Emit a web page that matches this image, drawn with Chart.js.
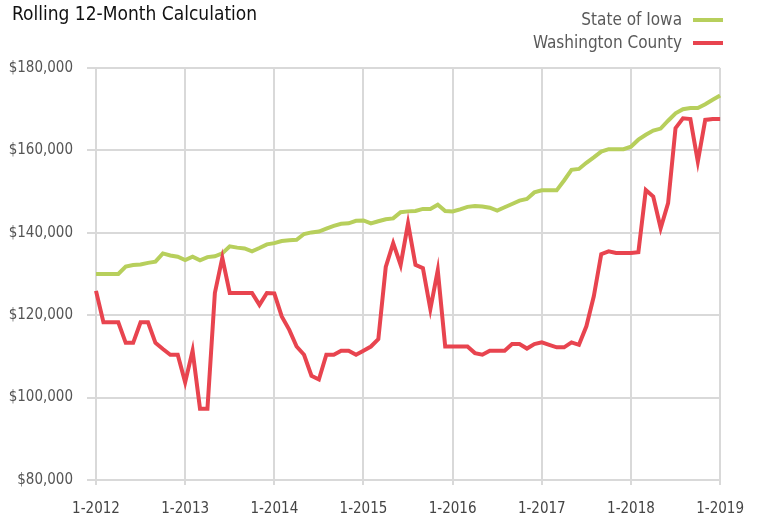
<!DOCTYPE html>
<html>
<head>
<meta charset="utf-8">
<script src="https://cdn.jsdelivr.net/npm/chart.js@4/dist/chart.umd.min.js"></script>
<style>
    body { margin: 0; background: #fff; }
    #wrap { position: relative; width: 759px; height: 515px; font-family: "DejaVu Sans Condensed", sans-serif; }
    #title { position: absolute; left: 12px; top: 2px; font-size: 19px; color: #111; }
    #legend { position: absolute; right: 36px; top: 8px; font-size: 17px; color: #5a5a5a; text-align: right; line-height: 23px; }
    #legend span.sw { display: inline-block; width: 30px; height: 4px; margin-left: 11px; vertical-align: middle; }
</style>
</head>
<body>
<div id="wrap">
    <canvas id="grafica" width="759" height="515"></canvas>
    <div id="title">Rolling 12-Month Calculation</div>
    <div id="legend">
        <div>State of Iowa<span class="sw" style="background:#b7cf5c"></span></div>
        <div>Washington County<span class="sw" style="background:#e8444f"></span></div>
    </div>
</div>
<script>
// monthly, 1-2012 .. 1-2019
const years = [2012, 2013, 2014, 2015, 2016, 2017, 2018, 2019];
const seriesNames = ['State of Iowa', 'Washington County'];

const iowa = [
    130000, 130000, 130000, 130000, 131800, 132200, 132300, 132700, 133000, 135000, 134500, 134200,
    133400, 134200, 133300, 134100, 134300, 135000, 136700, 136400, 136200, 135500, 136300, 137200,
    137500, 138000, 138200, 138300, 139700, 140100, 140300, 141000, 141700, 142200, 142300, 142900,
    143000, 142300, 142800, 143300, 143500, 145000, 145200, 145300, 145800, 145800, 146800, 145300,
    145200, 145700, 146300, 146500, 146400, 146100, 145400, 146200, 147000, 147800, 148200, 149800,
    150300, 150300, 150300, 152700, 155300, 155500, 157000, 158300, 159700, 160300, 160300, 160300,
    160900, 162600, 163800, 164800, 165300, 167200, 169000, 170000, 170300, 170300, 171200, 172300,
    173300
];

const washington = [
    125900, 118300, 118300, 118300, 113300, 113300, 118300, 118300, 113300, 111800, 110400, 110400,
    103700, 111400, 97300, 97300, 125400, 133900, 125400, 125400, 125400, 125400, 122500, 125400,
    125300, 119700, 116500, 112400, 110400, 105300, 104400, 110400, 110400, 111400, 111400, 110400,
    111400, 112400, 114200, 131700, 137500, 132200, 142300, 132200, 131400, 121500, 130900, 112400,
    112400, 112400, 112400, 110800, 110400, 111400, 111400, 111400, 113000, 113000, 111900, 113000,
    113400, 112800, 112200, 112200, 113400, 112800, 117300, 124600, 134800, 135500, 135100, 135100,
    135100, 135300, 150400, 148800, 141100, 147200, 165400, 167800, 167600, 157300, 167400, 167600,
    167600
];

const yTicks = [80000, 100000, 120000, 140000, 160000, 180000];

var labels = [];
for (let i = 0; i < iowa.length; i++) {
    let m = (i % 12) + 1;
    labels.push(m + '-' + years[Math.floor(i / 12)]);
}

const gris = '#d9d9d9';
const fuente = "'DejaVu Sans Condensed', sans-serif";

const ctx = document.getElementById('grafica').getContext('2d');
const grafica = new Chart(ctx, {
    type: 'line',
    data: {
        labels: labels,
        datasets: [{
            label: seriesNames[1],
            data: washington,
            borderColor: '#e8444f',
            borderWidth: 4,
            pointRadius: 0,
            tension: 0
        }, {
            label: seriesNames[0],
            data: iowa,
            borderColor: '#b7cf5c',
            borderWidth: 4,
            pointRadius: 0,
            tension: 0
        }]
    },
    options: {
        responsive: false,
        animation: false,
        layout: { padding: { top: 68, right: 37, left: 0, bottom: 0 } },
        plugins: {
            legend: { display: false },
            tooltip: { enabled: false }
        },
        scales: {
            x: {
                afterFit: function (scale) { scale.height = 35; },
                grid: {
                    color: function (c) { return (c.index % 12 === 0) ? gris : 'rgba(0,0,0,0)'; },
                    lineWidth: 2,
                    tickLength: 5
                },
                border: { color: gris, width: 2 },
                ticks: {
                    autoSkip: false,
                    maxRotation: 0,
                    padding: 15,
                    color: '#444',
                    font: { family: fuente, size: 15 },
                    callback: function (v, i) { return (i % 12 === 0) ? labels[i] : ''; }
                }
            },
            y: {
                min: 80000,
                max: 180000,
                afterFit: function (scale) { scale.width = 96; },
                afterBuildTicks: function (scale) {
                    scale.ticks = yTicks.map(function (v) { return { value: v }; });
                },
                grid: { color: gris, lineWidth: 2, tickLength: 9 },
                border: { color: gris, width: 2 },
                ticks: {
                    padding: 14,
                    color: '#555',
                    font: { family: fuente, size: 15 },
                    callback: function (v) { return '$' + v.toLocaleString('en-US'); }
                }
            }
        }
    }
});
</script>
</body>
</html>
